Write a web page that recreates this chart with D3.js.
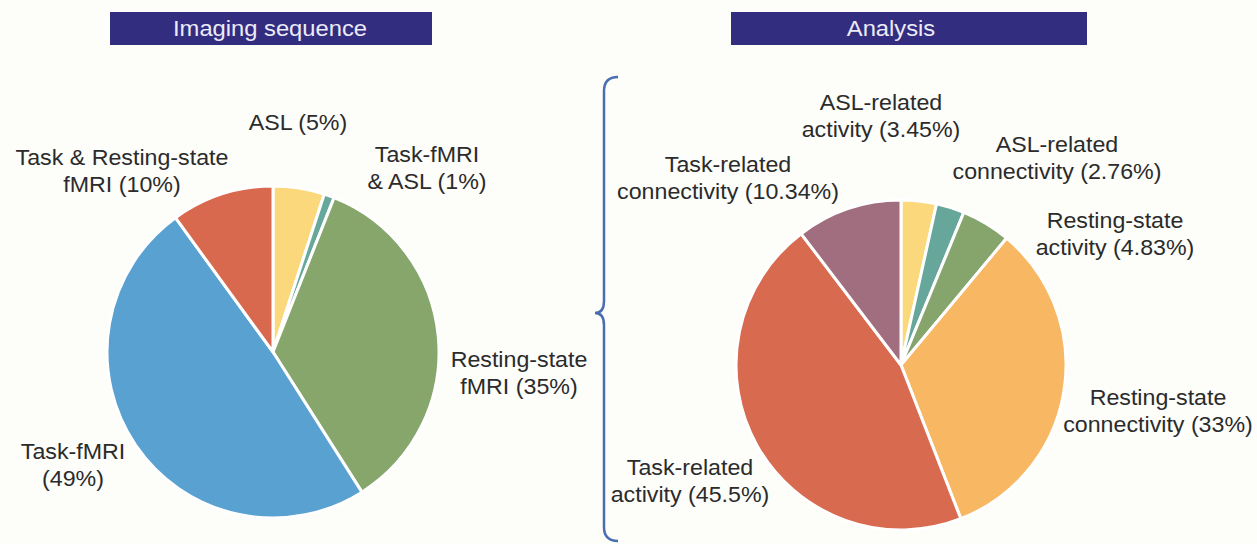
<!DOCTYPE html>
<html lang="en">
<head>
  <meta charset="UTF-8" />
  <title>Imaging sequence and Analysis</title>
  <script src="https://d3js.org/d3.v7.min.js"></script>
  <style>
    body {
      margin: 0;
      background: #fdfdfa;
      font-family: 'Liberation Sans', Arial, sans-serif;
    }
    svg { display: block; }
    .title-bar { fill: #332d80; }
    .title-text { fill: #ecebf7; font-size: 22px; }
    .label { fill: #2b2b2b; font-size: 21.5px; }
    .slice { stroke: #fff; stroke-width: 3px; }
    .brace { fill: none; stroke: #4b6db2; stroke-width: 2.5px; }
  </style>
</head>
<body>
  <svg id="chart" width="1257" height="544"></svg>

  <script>
    // Imaging sequence pie (clockwise from 12 o'clock)
    const imagingLabels = [
      ["ASL (5%)"],
      ["Task-fMRI", "& ASL (1%)"],
      ["Resting-state", "fMRI (35%)"],
      ["Task-fMRI", "(49%)"],
      ["Task & Resting-state", "fMRI (10%)"]
    ];
    const imagingValues = [5, 1, 35, 49, 10];
    const imagingColors = ["#fcd87d", "#68a89a", "#86a66c", "#59a1d1", "#d9694e"];

    // Analysis pie
    const analysisLabels = [
      ["ASL-related", "activity (3.45%)"],
      ["ASL-related", "connectivity (2.76%)"],
      ["Resting-state", "activity (4.83%)"],
      ["Resting-state", "connectivity (33%)"],
      ["Task-related", "activity (45.5%)"],
      ["Task-related", "connectivity (10.34%)"]
    ];
    const analysisValues = [3.45, 2.76, 4.83, 33, 45.5, 10.34];
    const analysisColors = ["#fcd87d", "#67a69a", "#86a56c", "#f8b863", "#d86a4f", "#a06e7e"];

    // label placement, offset from the pie centre (first line baseline)
    const imagingLabelPos = [[25, -222], [154, -190], [246, 15], [-200, 107], [-151, -187]];
    const analysisLabelPos = [[-20, -255], [156, -213], [214, -137], [257, 40], [-211, 110], [-173, -193]];

    const svg = d3.select("#chart");
    const lineH = 27;

    // Title bars
    function titleBar(x, w, textX, text) {
      svg.append("rect").attr("class", "title-bar")
        .attr("x", x).attr("y", 12).attr("width", w).attr("height", 33);
      svg.append("text").attr("class", "title-text")
        .attr("text-anchor", "middle")
        .attr("transform", `translate(${textX},36) scale(1.08,1)`)
        .text(text);
    }
    titleBar(110, 322, 270, "Imaging sequence");
    titleBar(731, 356, 891, "Analysis");

    function drawPie(cx, cy, r, values, colors, labels, labelPos) {
      const g = svg.append("g").attr("transform", `translate(${cx},${cy})`);
      const pie = d3.pie().sort(null).value(d => d);
      const arc = d3.arc().innerRadius(0).outerRadius(r);

      g.selectAll(".slice")
        .data(pie(values))
        .enter()
        .append("path")
        .attr("class", "slice")
        .attr("fill", (d, i) => colors[i])
        .attr("d", arc);

      labels.forEach((lines, i) => {
        const t = g.append("text").attr("class", "label")
          .attr("text-anchor", "middle")
          .attr("transform", `translate(${labelPos[i][0]},${labelPos[i][1]}) scale(1.08,1)`);
        lines.forEach((line, j) => {
          t.append("tspan").attr("x", 0).attr("y", j * lineH).text(line);
        });
      });
    }

    drawPie(273, 352, 166, imagingValues, imagingColors, imagingLabels, imagingLabelPos);
    drawPie(901, 365, 165, analysisValues, analysisColors, analysisLabels, analysisLabelPos);

    // Curly brace between the two pies
    const bx = 604, tipY = 313, braceTop = 77, braceBottom = 541;
    svg.append("path").attr("class", "brace")
      .attr("d", `M${bx + 14},${braceTop} Q${bx},${braceTop} ${bx},${braceTop + 14}
                  L${bx},${tipY - 12} Q${bx},${tipY} ${bx - 9},${tipY}
                  Q${bx},${tipY} ${bx},${tipY + 12}
                  L${bx},${braceBottom - 14} Q${bx},${braceBottom} ${bx + 14},${braceBottom}`);
  </script>
</body>
</html>
